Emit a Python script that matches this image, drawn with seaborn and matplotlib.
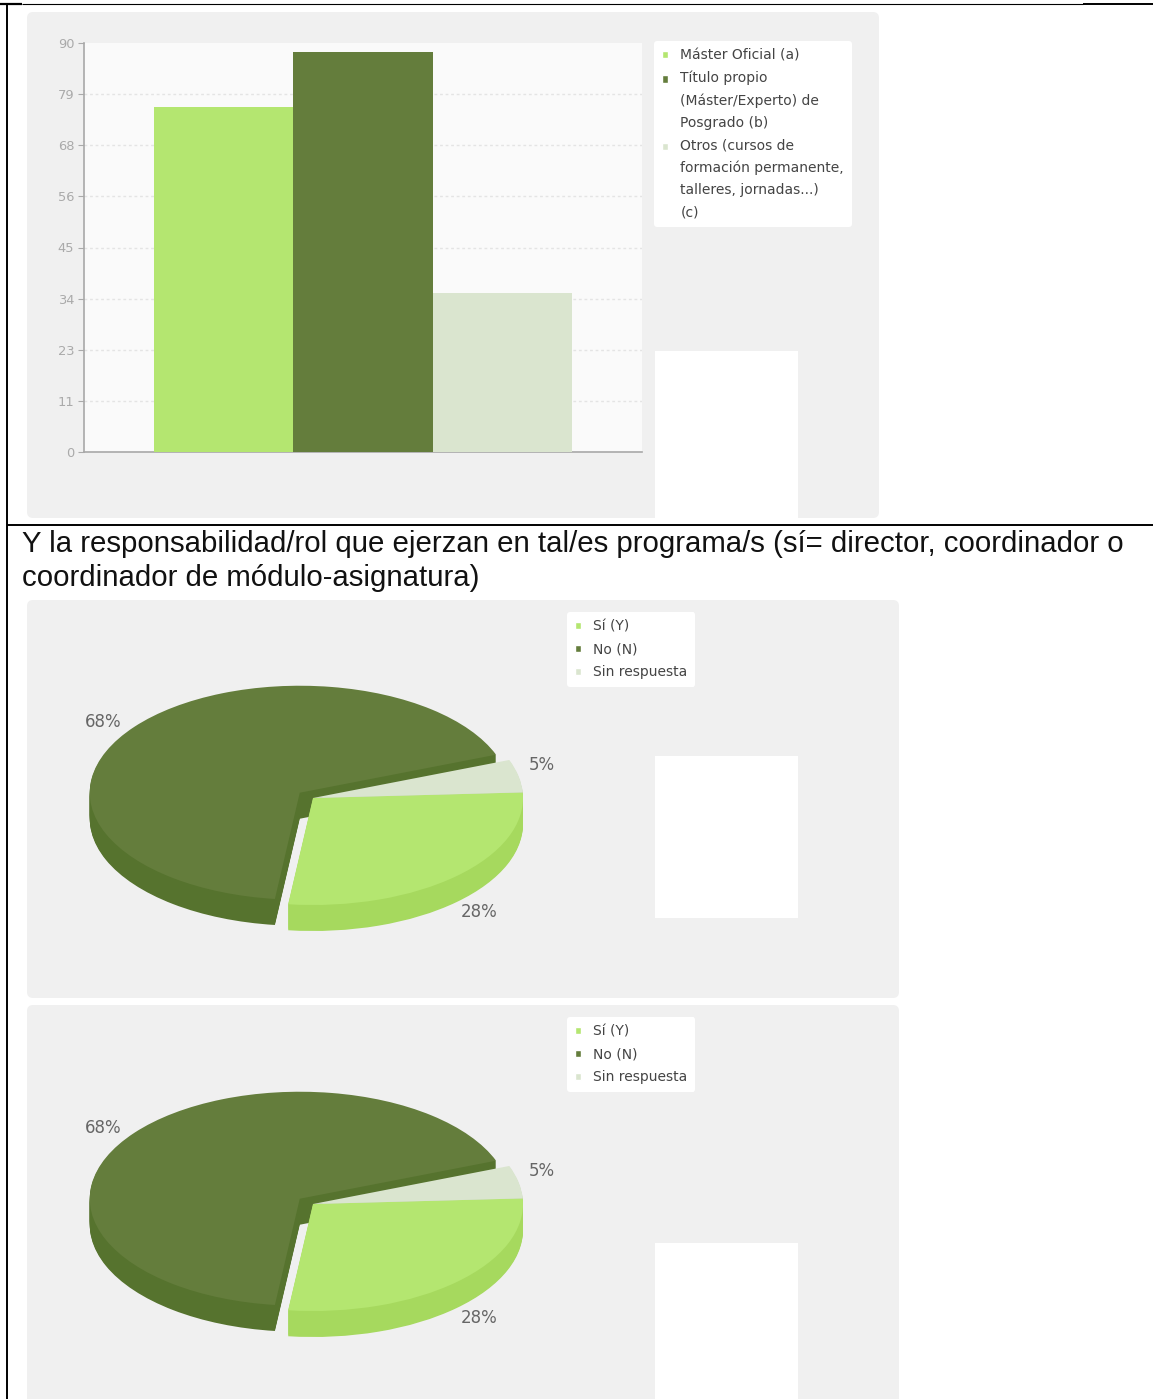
import matplotlib
matplotlib.use("Agg")
import matplotlib.pyplot as plt
from matplotlib.patches import FancyBboxPatch, Rectangle, Patch
import numpy as np
import pandas as pd
import seaborn as sns

W, H = 1153, 1399

# ---- data ----
bar_labels = ["Máster Oficial (a)",
              "Título propio\n(Máster/Experto) de\nPosgrado (b)",
              "Otros (cursos de\nformación permanente,\ntalleres, jornadas...)\n(c)"]
bar_values = [76, 88, 35]
y_tick_labels = ["0", "11", "23", "34", "45", "56", "68", "79", "90"]
pie_labels = ["Sí (Y)", "No (N)", "Sin respuesta"]
pie_values = [28, 68, 5]
caption = ("Y la responsabilidad/rol que ejerzan en tal/es programa/s (sí= director, coordinador o\n"
           "coordinador de módulo-asignatura)")

# ---- style ----
TOP = ["#B4E670", "#647D3C", "#DAE5CF"]
SIDE = ["#A6D95E", "#56732E", "#C6D4B6"]
PANEL = "#F0F0F0"

sns.set_theme(style="white")
plt.rcParams["font.family"] = ["DejaVu Sans"]
fig = plt.figure(figsize=(W / 100, H / 100), dpi=100, facecolor="white")


def px_axes(x0, y0, x1, y1, **kw):
    return fig.add_axes([x0 / W, 1 - y1 / H, (x1 - x0) / W, (y1 - y0) / H], **kw)


# page layer in pixel coordinates
bg = px_axes(0, 0, W, H, zorder=0)
bg.set_xlim(0, W)
bg.set_ylim(H, 0)
bg.axis("off")
for (x0, y0, x1, y1) in [(27, 12, 879, 518), (27, 600, 899, 998), (27, 1005, 899, 1420)]:
    bg.add_patch(FancyBboxPatch((x0 + 6, y0 + 6), x1 - x0 - 12, y1 - y0 - 12,
                                boxstyle="round,pad=6,rounding_size=6", fc=PANEL, ec="none"))
for (x0, y0, x1, y1) in [(655, 351, 798, 518), (655, 756, 798, 918), (655, 1243, 798, 1399)]:
    bg.add_patch(Rectangle((x0, y0), x1 - x0, y1 - y0, fc="white", ec="none"))
for xs, ys, lw in [((7, 7), (4, H), 1.4), ((0, 22), (4, 4), 1.6), ((22, 1083), (4, 4), 0.8),
                   ((1083, W), (4, 4), 1.4), ((7, W), (525, 525), 1.4)]:
    bg.plot(xs, ys, color="black", lw=lw, solid_capstyle="butt")
bg.text(22, 586, caption, family="Liberation Sans", fontsize=21.2, color="#111111",
        va="baseline", ha="left", linespacing=1.25)


def add_legend(handles, labels, x, y, spacing, linesp, pad):
    leg = fig.legend(handles, labels, loc="upper left",
                     bbox_to_anchor=(x / W, 1 - y / H), borderaxespad=0,
                     frameon=True, fancybox=True, facecolor="white", edgecolor="none",
                     framealpha=1, fontsize=10, labelcolor="#444444",
                     handlelength=0.45, handleheight=0.45, handletextpad=0.9,
                     labelspacing=spacing, borderpad=pad)
    for t, h, lab in zip(leg.get_texts(), leg.legend_handles, labels):
        t.set_linespacing(linesp)
        # put the small key next to the first line of a wrapped label
        n = lab.count("\n")
        h.set_y(h.get_y() + n / 2 * 15.8)
    return leg


# ---- bar chart ----
ax = px_axes(84, 43, 642, 452, zorder=1, facecolor="#FAFAFA")
df = pd.DataFrame({"g": [""] * 3, "serie": bar_labels, "v": bar_values})
sns.barplot(data=df, x="g", y="v", hue="serie", hue_order=bar_labels, palette=TOP,
            width=0.75, gap=0, saturation=1, legend=False, ax=ax, zorder=3, linewidth=0)
ax.set_xlim(-0.5, 0.5)
ax.set_ylim(0, 90)
ax.set_xlabel("")
ax.set_ylabel("")
ax.set_xticks([])
tick_pos = np.linspace(0, 90, len(y_tick_labels))
ax.set_yticks(tick_pos, y_tick_labels)
ax.tick_params(axis="y", length=4, width=0.8, color="#AAAAAA", labelcolor="#AAAAAA",
               labelsize=9.4, pad=3, left=True)
ax.hlines(tick_pos[1:-1], -0.5, 0.5, color="#E4E4E4", lw=1, ls=(0, (2, 2)), zorder=1)
for s in ["top", "right"]:
    ax.spines[s].set_visible(False)
for s in ["left", "bottom"]:
    ax.spines[s].set_color("#A8A8A8")
    ax.spines[s].set_linewidth(1.2)
add_legend([Patch(fc=c) for c in TOP], bar_labels, 654, 41, 0.6, 1.72, 0.55)


# ---- pseudo-3D pie charts ----
def pie3d(cx, cy, legend_y):
    rx, ry, depth = 210, 107, 26
    a = px_axes(cx - rx, cy - ry, cx + rx, cy + ry, zorder=1)
    a.patch.set_alpha(0)

    def layer(off, colors, keep, labels=None):
        wedges, *rest = a.pie(pie_values, colors=colors, startangle=3, counterclock=False,
                              explode=[0, 0.08, 0], center=(0, -off), radius=1,
                              labels=labels, labeldistance=1.1,
                              textprops=dict(color="#666666", fontsize=12),
                              wedgeprops=dict(linewidth=0))
        for i, w in enumerate(wedges):
            w.set_visible(i in keep)
        return rest[0] if rest else []

    steps = list(range(depth, 0, -1))
    # dark slice wall first; the other slices stand in front of it
    for d in steps:
        layer(d / ry, SIDE, {1})
    for d in steps:
        layer(d / ry, SIDE, {0, 2})
    layer(0, TOP, {0, 2})
    texts = layer(0, TOP, {1}, labels=[f"{v}%" for v in pie_values])
    # the 28 % label sits below the rim, the 5 % label beside the raised edge
    shifts = [(0.04, -0.26), (-0.07, -0.02), (0.015, 0.08)]
    for t, (dx, dy) in zip(texts, shifts):
        x, y = t.get_position()
        t.set_position((x + dx, y + dy))
        t.set_ha("center")
        t.set_va("center")
    a.set_aspect("auto")
    a.set_xlim(-1, 1)
    a.set_ylim(-1, 1)
    a.axis("off")
    add_legend([Patch(fc=c) for c in TOP], pie_labels, 567, legend_y, 0.64, 1.2, 0.55)


pie3d(313, 798, 612)
pie3d(313, 1204, 1017)

fig.savefig("out.png", dpi=100)
